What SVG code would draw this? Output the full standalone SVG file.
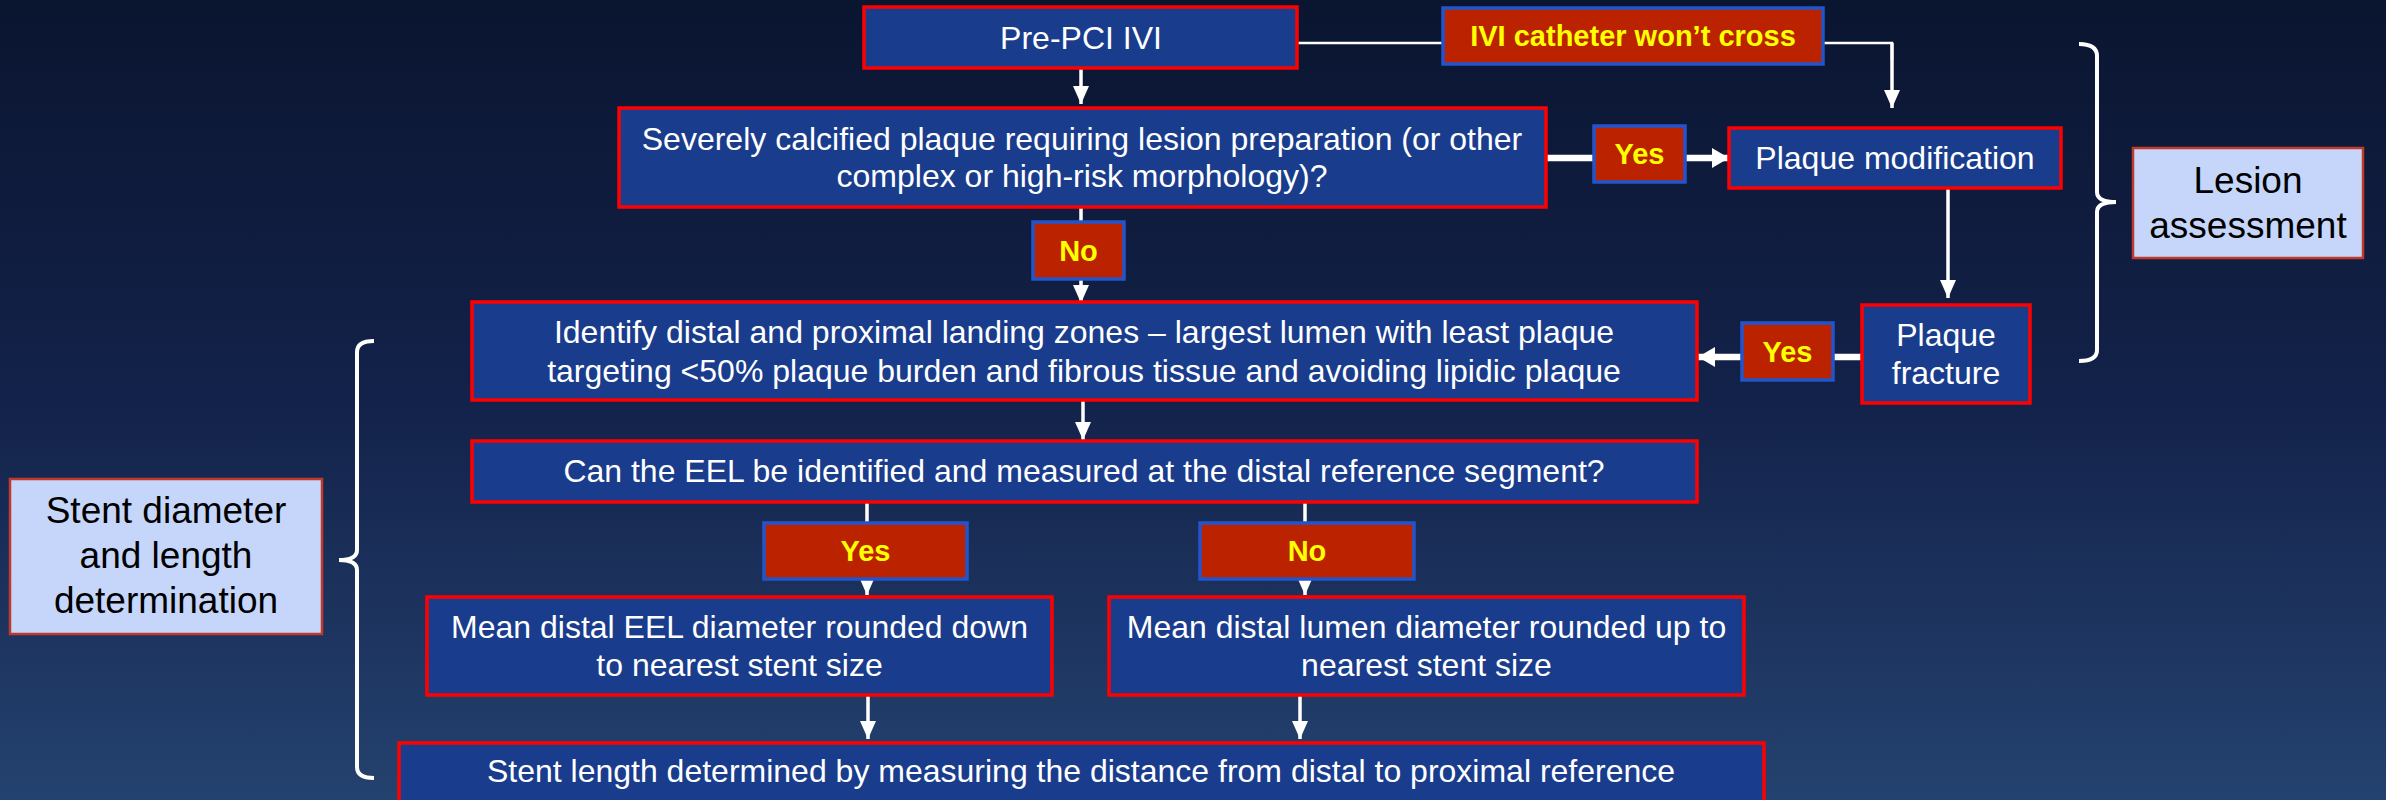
<svg xmlns="http://www.w3.org/2000/svg" width="2386" height="800" viewBox="0 0 2386 800">
<defs>
<linearGradient id="bg" x1="0" y1="0" x2="0" y2="1">
<stop offset="0" stop-color="#0A1530"/>
<stop offset="0.5" stop-color="#13224A"/>
<stop offset="1" stop-color="#24426F"/>
</linearGradient>
<marker id="ah" markerUnits="userSpaceOnUse" markerWidth="18" markerHeight="16" refX="18" refY="8" viewBox="0 0 18 16" orient="auto">
<path d="M0,0 L18,8 L0,16 Z" fill="#FFFFFF"/>
</marker>
<marker id="ahb" markerUnits="userSpaceOnUse" markerWidth="17" markerHeight="20" refX="17" refY="10" viewBox="0 0 17 20" orient="auto">
<path d="M0,0 L17,10 L0,20 Z" fill="#FFFFFF"/>
</marker>
<style>
.node{fill:#1A3C8C;stroke:#FF0000;stroke-width:3.5}
.lab{fill:#BB2200;stroke:#2255CC;stroke-width:3.5}
.side{fill:#C5D6FA;stroke:#C0392B;stroke-width:2.5}
.t{font-family:"Liberation Sans",Arial,sans-serif;font-size:32px;fill:#FFFFFF;text-anchor:middle}
.lt{font-family:"Liberation Sans",Arial,sans-serif;font-size:29px;font-weight:bold;fill:#FFFF00;text-anchor:middle}
.st{font-family:"Liberation Sans",Arial,sans-serif;font-size:37px;fill:#000000;text-anchor:middle}
.c{fill:none;stroke:#FFFFFF;stroke-width:3.5}
.cn{fill:none;stroke:#FFFFFF;stroke-width:2.5}
.cb{fill:none;stroke:#FFFFFF;stroke-width:6.5}
.br{fill:none;stroke:#FFFFFF;stroke-width:4}
</style>
</defs>
<rect x="0" y="0" width="2386" height="800" fill="url(#bg)"/>

<g id="connectors">
<path class="cn" d="M1297,43 L1443,43"/>
<path class="cn" d="M1823,43 L1892,43 L1892,60"/>
<path class="c" d="M1892,43 L1892,108" marker-end="url(#ah)"/>
<path class="c" d="M1081,68 L1081,104" marker-end="url(#ah)"/>
<path class="c" d="M1081,207 L1081,222"/>
<path class="c" d="M1081,279 L1081,303" marker-end="url(#ah)"/>
<path class="cb" d="M1546,158 L1594,158"/>
<path class="cb" d="M1685,158 L1729,158" marker-end="url(#ahb)"/>
<path class="c" d="M1948,188 L1948,298" marker-end="url(#ah)"/>
<path class="cb" d="M1862,357 L1833,357"/>
<path class="cb" d="M1742,357 L1698,357" marker-end="url(#ahb)"/>
<path class="c" d="M1083,400 L1083,440" marker-end="url(#ah)"/>
<path class="c" d="M867,502 L867,523"/>
<path class="c" d="M1305,502 L1305,523"/>
<path class="c" d="M867,579 L867,595" marker-end="url(#ah)"/>
<path class="c" d="M1305,579 L1305,595" marker-end="url(#ah)"/>
<path class="c" d="M868,695 L868,739" marker-end="url(#ah)"/>
<path class="c" d="M1300,695 L1300,739" marker-end="url(#ah)"/>
</g>

<g id="brace-right">
<path class="br" d="M2079,44 Q2097,44 2097,56 L2097,192 Q2097,202 2116,202 Q2097,202 2097,212 L2097,350 Q2097,361 2079,361"/>
</g>
<g id="brace-left">
<path class="br" d="M374,341 Q357,341 357,352 L357,550 Q357,560 339,560 Q357,560 357,570 L357,767 Q357,778 374,778"/>
</g>

<g id="pre-pci">
<rect class="node" x="864" y="7" width="433" height="61"/>
<text class="t" x="1081" y="49">Pre-PCI IVI</text>
</g>
<g id="ivi-wont-cross">
<rect class="lab" x="1443" y="8" width="380" height="56"/>
<text class="lt" x="1633" y="46">IVI catheter won’t cross</text>
</g>
<g id="calcified">
<rect class="node" x="619" y="108" width="927" height="99"/>
<text class="t" x="1082" y="150">Severely calcified plaque requiring lesion preparation (or other</text>
<text class="t" x="1082" y="187">complex or high-risk morphology)?</text>
</g>
<g id="yes1">
<rect class="lab" x="1594" y="126" width="91" height="56"/>
<text class="lt" x="1639.5" y="164">Yes</text>
</g>
<g id="plaque-mod">
<rect class="node" x="1729" y="128" width="332" height="60"/>
<text class="t" x="1895" y="169">Plaque modification</text>
</g>
<g id="no1">
<rect class="lab" x="1033" y="222" width="91" height="57"/>
<text class="lt" x="1078.5" y="261">No</text>
</g>
<g id="plaque-fracture">
<rect class="node" x="1862" y="305" width="168" height="98"/>
<text class="t" x="1946" y="346">Plaque</text>
<text class="t" x="1946" y="384">fracture</text>
</g>
<g id="yes2">
<rect class="lab" x="1742" y="323" width="91" height="57"/>
<text class="lt" x="1787.5" y="362">Yes</text>
</g>
<g id="lesion-assessment">
<rect class="side" x="2133" y="148" width="230" height="110"/>
<text class="st" x="2248" y="193">Lesion</text>
<text class="st" x="2248" y="238">assessment</text>
</g>
<g id="landing-zones">
<rect class="node" x="472" y="302" width="1225" height="98"/>
<text class="t" x="1084" y="343">Identify distal and proximal landing zones – largest lumen with least plaque</text>
<text class="t" x="1084" y="382">targeting &lt;50% plaque burden and fibrous tissue and avoiding lipidic plaque</text>
</g>
<g id="eel-question">
<rect class="node" x="472" y="441" width="1225" height="61"/>
<text class="t" x="1084" y="482">Can the EEL be identified and measured at the distal reference segment?</text>
</g>
<g id="yes3">
<rect class="lab" x="764" y="523" width="203" height="56"/>
<text class="lt" x="865.5" y="561">Yes</text>
</g>
<g id="no2">
<rect class="lab" x="1200" y="523" width="214" height="56"/>
<text class="lt" x="1307" y="561">No</text>
</g>
<g id="mean-eel">
<rect class="node" x="427" y="597" width="625" height="98"/>
<text class="t" x="739.5" y="638">Mean distal EEL diameter rounded down</text>
<text class="t" x="739.5" y="676">to nearest stent size</text>
</g>
<g id="mean-lumen">
<rect class="node" x="1109" y="597" width="635" height="98"/>
<text class="t" x="1426.5" y="638">Mean distal lumen diameter rounded up to</text>
<text class="t" x="1426.5" y="676">nearest stent size</text>
</g>
<g id="stent-length">
<rect class="node" x="399" y="743" width="1365" height="70"/>
<text class="t" x="1081" y="782">Stent length determined by measuring the distance from distal to proximal reference</text>
</g>
<g id="stent-determination">
<rect class="side" x="10" y="479" width="312" height="155"/>
<text class="st" x="166" y="523">Stent diameter</text>
<text class="st" x="166" y="568">and length</text>
<text class="st" x="166" y="613">determination</text>
</g>
</svg>
